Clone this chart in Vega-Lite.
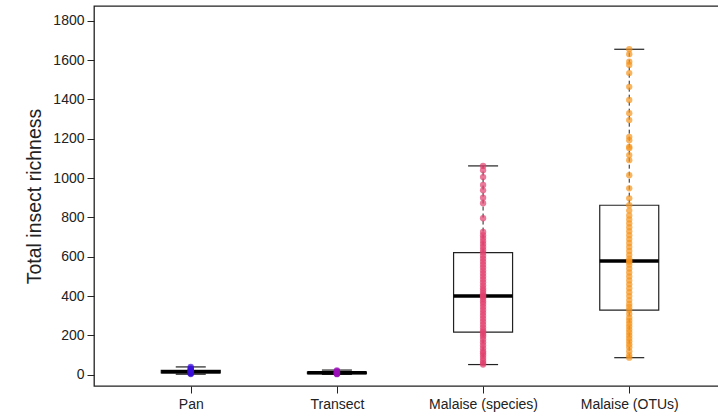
{
  "$schema": "https://vega.github.io/schema/vega-lite/v6.json",
  "width": 632,
  "height": 380,
  "autosize": {"type": "none"},
  "padding": {"left": 94, "top": 6, "right": 0, "bottom": 32},
  "background": "white",
  "config": {
    "view": {"stroke": "#222222", "strokeWidth": 1.3},
    "font": "Liberation Sans",
    "axis": {"grid": false, "domain": false, "tickColor": "#222222", "labelColor": "#222222", "titleColor": "#222222", "titleFontWeight": "normal"}
  },
  "datasets": {
    "box": [
      {"method": "Pan", "lo": 3, "q1": 10, "med": 16, "q3": 22, "hi": 40},
      {"method": "Transect", "lo": 2, "q1": 6, "med": 10, "q3": 14, "hi": 24},
      {"method": "Malaise (species)", "lo": 52, "q1": 217, "med": 400, "q3": 621, "hi": 1062},
      {"method": "Malaise (OTUs)", "lo": 87, "q1": 329, "med": 578, "q3": 862, "hi": 1655}
    ],
    "pts": [
      {"method": "Pan", "richness": 4}, {"method": "Pan", "richness": 7}, {"method": "Pan", "richness": 9}, {"method": "Pan", "richness": 11},
      {"method": "Pan", "richness": 12}, {"method": "Pan", "richness": 14}, {"method": "Pan", "richness": 15}, {"method": "Pan", "richness": 17},
      {"method": "Pan", "richness": 19}, {"method": "Pan", "richness": 21}, {"method": "Pan", "richness": 24}, {"method": "Pan", "richness": 28},
      {"method": "Pan", "richness": 33}, {"method": "Pan", "richness": 40},
      {"method": "Transect", "richness": 3}, {"method": "Transect", "richness": 5}, {"method": "Transect", "richness": 6}, {"method": "Transect", "richness": 8},
      {"method": "Transect", "richness": 9}, {"method": "Transect", "richness": 10}, {"method": "Transect", "richness": 11}, {"method": "Transect", "richness": 13},
      {"method": "Transect", "richness": 15}, {"method": "Transect", "richness": 18}, {"method": "Transect", "richness": 22},
      {"method": "Malaise (species)", "richness": 52}, {"method": "Malaise (species)", "richness": 60}, {"method": "Malaise (species)", "richness": 72},
      {"method": "Malaise (species)", "richness": 85}, {"method": "Malaise (species)", "richness": 98}, {"method": "Malaise (species)", "richness": 110},
      {"method": "Malaise (species)", "richness": 120}, {"method": "Malaise (species)", "richness": 135}, {"method": "Malaise (species)", "richness": 150},
      {"method": "Malaise (species)", "richness": 165}, {"method": "Malaise (species)", "richness": 180}, {"method": "Malaise (species)", "richness": 195},
      {"method": "Malaise (species)", "richness": 205}, {"method": "Malaise (species)", "richness": 217}, {"method": "Malaise (species)", "richness": 225},
      {"method": "Malaise (species)", "richness": 240}, {"method": "Malaise (species)", "richness": 255}, {"method": "Malaise (species)", "richness": 270},
      {"method": "Malaise (species)", "richness": 285}, {"method": "Malaise (species)", "richness": 300}, {"method": "Malaise (species)", "richness": 315},
      {"method": "Malaise (species)", "richness": 330}, {"method": "Malaise (species)", "richness": 345}, {"method": "Malaise (species)", "richness": 360},
      {"method": "Malaise (species)", "richness": 372}, {"method": "Malaise (species)", "richness": 385}, {"method": "Malaise (species)", "richness": 395},
      {"method": "Malaise (species)", "richness": 400}, {"method": "Malaise (species)", "richness": 405}, {"method": "Malaise (species)", "richness": 415},
      {"method": "Malaise (species)", "richness": 428}, {"method": "Malaise (species)", "richness": 440}, {"method": "Malaise (species)", "richness": 455},
      {"method": "Malaise (species)", "richness": 470}, {"method": "Malaise (species)", "richness": 485}, {"method": "Malaise (species)", "richness": 500},
      {"method": "Malaise (species)", "richness": 515}, {"method": "Malaise (species)", "richness": 530}, {"method": "Malaise (species)", "richness": 545},
      {"method": "Malaise (species)", "richness": 560}, {"method": "Malaise (species)", "richness": 575}, {"method": "Malaise (species)", "richness": 590},
      {"method": "Malaise (species)", "richness": 605}, {"method": "Malaise (species)", "richness": 621}, {"method": "Malaise (species)", "richness": 635},
      {"method": "Malaise (species)", "richness": 650}, {"method": "Malaise (species)", "richness": 665}, {"method": "Malaise (species)", "richness": 680},
      {"method": "Malaise (species)", "richness": 695}, {"method": "Malaise (species)", "richness": 710}, {"method": "Malaise (species)", "richness": 726},
      {"method": "Malaise (species)", "richness": 796}, {"method": "Malaise (species)", "richness": 872}, {"method": "Malaise (species)", "richness": 900},
      {"method": "Malaise (species)", "richness": 938}, {"method": "Malaise (species)", "richness": 965}, {"method": "Malaise (species)", "richness": 1005},
      {"method": "Malaise (species)", "richness": 1040}, {"method": "Malaise (species)", "richness": 1062},
      {"method": "Malaise (OTUs)", "richness": 87}, {"method": "Malaise (OTUs)", "richness": 100}, {"method": "Malaise (OTUs)", "richness": 120},
      {"method": "Malaise (OTUs)", "richness": 140}, {"method": "Malaise (OTUs)", "richness": 155}, {"method": "Malaise (OTUs)", "richness": 170},
      {"method": "Malaise (OTUs)", "richness": 185}, {"method": "Malaise (OTUs)", "richness": 200}, {"method": "Malaise (OTUs)", "richness": 215},
      {"method": "Malaise (OTUs)", "richness": 230}, {"method": "Malaise (OTUs)", "richness": 245}, {"method": "Malaise (OTUs)", "richness": 260},
      {"method": "Malaise (OTUs)", "richness": 275}, {"method": "Malaise (OTUs)", "richness": 290}, {"method": "Malaise (OTUs)", "richness": 310},
      {"method": "Malaise (OTUs)", "richness": 329}, {"method": "Malaise (OTUs)", "richness": 345}, {"method": "Malaise (OTUs)", "richness": 360},
      {"method": "Malaise (OTUs)", "richness": 380}, {"method": "Malaise (OTUs)", "richness": 400}, {"method": "Malaise (OTUs)", "richness": 420},
      {"method": "Malaise (OTUs)", "richness": 440}, {"method": "Malaise (OTUs)", "richness": 460}, {"method": "Malaise (OTUs)", "richness": 480},
      {"method": "Malaise (OTUs)", "richness": 500}, {"method": "Malaise (OTUs)", "richness": 520}, {"method": "Malaise (OTUs)", "richness": 540},
      {"method": "Malaise (OTUs)", "richness": 560}, {"method": "Malaise (OTUs)", "richness": 575}, {"method": "Malaise (OTUs)", "richness": 578},
      {"method": "Malaise (OTUs)", "richness": 590}, {"method": "Malaise (OTUs)", "richness": 610}, {"method": "Malaise (OTUs)", "richness": 630},
      {"method": "Malaise (OTUs)", "richness": 650}, {"method": "Malaise (OTUs)", "richness": 670}, {"method": "Malaise (OTUs)", "richness": 690},
      {"method": "Malaise (OTUs)", "richness": 710}, {"method": "Malaise (OTUs)", "richness": 730}, {"method": "Malaise (OTUs)", "richness": 750},
      {"method": "Malaise (OTUs)", "richness": 770}, {"method": "Malaise (OTUs)", "richness": 790}, {"method": "Malaise (OTUs)", "richness": 810},
      {"method": "Malaise (OTUs)", "richness": 835}, {"method": "Malaise (OTUs)", "richness": 862}, {"method": "Malaise (OTUs)", "richness": 897},
      {"method": "Malaise (OTUs)", "richness": 948}, {"method": "Malaise (OTUs)", "richness": 1015}, {"method": "Malaise (OTUs)", "richness": 1091},
      {"method": "Malaise (OTUs)", "richness": 1117}, {"method": "Malaise (OTUs)", "richness": 1152}, {"method": "Malaise (OTUs)", "richness": 1159},
      {"method": "Malaise (OTUs)", "richness": 1193}, {"method": "Malaise (OTUs)", "richness": 1210}, {"method": "Malaise (OTUs)", "richness": 1295},
      {"method": "Malaise (OTUs)", "richness": 1330}, {"method": "Malaise (OTUs)", "richness": 1397}, {"method": "Malaise (OTUs)", "richness": 1464},
      {"method": "Malaise (OTUs)", "richness": 1534}, {"method": "Malaise (OTUs)", "richness": 1575}, {"method": "Malaise (OTUs)", "richness": 1592},
      {"method": "Malaise (OTUs)", "richness": 1630}, {"method": "Malaise (OTUs)", "richness": 1655}
    ]
  },
  "encoding": {
    "x": {
      "field": "method", "type": "nominal",
      "scale": {"type": "point", "domain": ["Pan", "Transect", "Malaise (species)", "Malaise (OTUs)"], "padding": 0.662},
      "axis": {"title": null, "labelAngle": 0, "labelFontSize": 14, "tickSize": 7, "labelPadding": 4}
    }
  },
  "layer": [
    {
      "data": {"name": "box"},
      "mark": {"type": "rule", "strokeDash": [4, 3], "color": "#222222", "strokeWidth": 1},
      "encoding": {
        "y": {"field": "lo", "type": "quantitative",
          "scale": {"domain": [-57, 1875], "nice": false, "zero": false},
          "axis": {"title": "Total insect richness", "format": "d", "values": [0, 200, 400, 600, 800, 1000, 1200, 1400, 1600, 1800], "labelFontSize": 14, "titleFontSize": 19.5, "tickSize": 7, "labelPadding": 3, "titlePadding": 8}},
        "y2": {"field": "hi"}
      }
    },
    {
      "data": {"name": "box"},
      "mark": {"type": "tick", "color": "#222222", "opacity": 1, "size": 30, "thickness": 1.2},
      "encoding": {"y": {"field": "lo", "type": "quantitative"}}
    },
    {
      "data": {"name": "box"},
      "mark": {"type": "tick", "color": "#222222", "opacity": 1, "size": 30, "thickness": 1.2},
      "encoding": {"y": {"field": "hi", "type": "quantitative"}}
    },
    {
      "data": {"name": "box"},
      "mark": {"type": "bar", "size": 59, "fill": "white", "opacity": 1, "stroke": "#222222", "strokeWidth": 1.2},
      "encoding": {"y": {"field": "q1", "type": "quantitative"}, "y2": {"field": "q3"}}
    },
    {
      "data": {"name": "box"},
      "mark": {"type": "tick", "color": "black", "opacity": 1, "size": 59, "thickness": 3.5},
      "encoding": {"y": {"field": "med", "type": "quantitative"}}
    },
    {
      "data": {"name": "pts"},
      "mark": {"type": "circle", "size": 40, "opacity": 0.7},
      "encoding": {
        "y": {"field": "richness", "type": "quantitative"},
        "color": {"field": "method", "type": "nominal", "legend": null,
          "scale": {"domain": ["Pan", "Transect", "Malaise (species)", "Malaise (OTUs)"], "range": ["#3a10d8", "#9a10b8", "#e3406e", "#f7941d"]}}
      }
    }
  ]
}
